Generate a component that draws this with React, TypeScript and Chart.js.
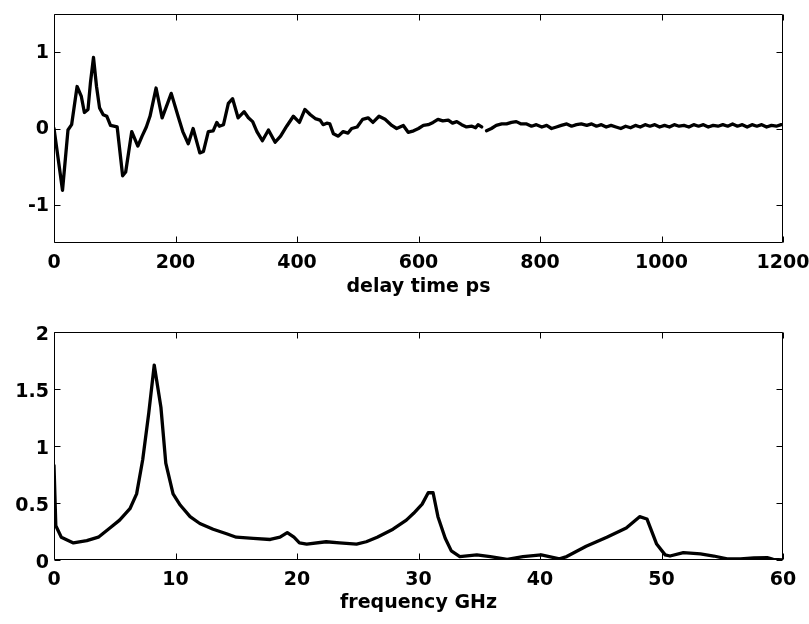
import React, { useEffect, useRef } from "react";
import { Chart, registerables } from "chart.js";

Chart.register(...registerables);

// ---- Top panel: time-domain signal ----
const delayPs: number[] = [
  0, 14, 23, 29, 38, 45, 50, 56, 60, 65, 70, 75, 81, 87, 93, 104, 113, 118, 128, 138,
  145, 152, 158, 168, 178, 186, 193, 205, 212, 221, 229, 240, 246, 254, 262, 268, 272, 279, 287, 294,
  303, 313, 320, 327, 334, 343, 353, 364, 373, 383, 394, 404, 413, 422, 430, 438, 443, 449, 454, 460,
  468, 476, 484, 490, 499, 508, 517, 525, 535, 545, 556, 564, 575, 583, 592, 600, 608, 616, 624, 632,
  640, 649, 656, 663, 671, 679, 688, 694, 698, 704, 708, 712, 720, 728, 737, 745, 753, 761, 769, 778,
  786, 794, 803, 811, 819, 827, 835, 844, 852, 860, 868, 877, 885, 893, 901, 909, 917, 925, 933, 941,
  949, 957, 965, 973, 981, 989, 997, 1005, 1013, 1021, 1029, 1037, 1045, 1053, 1061, 1069, 1077, 1085, 1093, 1101,
  1109, 1117, 1125, 1133, 1141, 1149, 1157, 1165, 1173, 1181, 1189, 1197,
];
const amplitude: (number | null)[] = [
  0, -0.81, -0.02, 0.05, 0.55, 0.42, 0.21, 0.25, 0.6, 0.93, 0.55, 0.27, 0.18, 0.16, 0.04, 0.02, -0.62, -0.57, -0.04, -0.23,
  -0.1, 0.02, 0.16, 0.53, 0.14, 0.31, 0.46, 0.14, -0.04, -0.2, 0.0, -0.32, -0.3, -0.04, -0.03, 0.08, 0.03, 0.05, 0.33, 0.39,
  0.14, 0.22, 0.14, 0.09, -0.04, -0.16, -0.02, -0.18, -0.1, 0.03, 0.16, 0.08, 0.25, 0.18, 0.13, 0.11, 0.05, 0.07, 0.06, -0.07,
  -0.1, -0.04, -0.06, 0.0, 0.02, 0.12, 0.14, 0.08, 0.16, 0.12, 0.04, 0.0, 0.04, -0.05, -0.03, 0.0, 0.04, 0.05, 0.08, 0.12,
  0.1, 0.11, 0.07, 0.09, 0.05, 0.02, 0.03, 0.01, 0.05, 0.02, null, -0.03, 0.0, 0.04, 0.06, 0.06, 0.08, 0.09, 0.06, 0.06,
  0.03, 0.05, 0.02, 0.04, 0.0, 0.02, 0.04, 0.06, 0.03, 0.05, 0.06, 0.04, 0.06, 0.03, 0.05, 0.02, 0.04, 0.02, 0.0, 0.03,
  0.01, 0.04, 0.02, 0.05, 0.03, 0.05, 0.02, 0.04, 0.02, 0.05, 0.03, 0.04, 0.02, 0.05, 0.03, 0.05, 0.02, 0.04, 0.03, 0.05,
  0.03, 0.06, 0.03, 0.05, 0.02, 0.05, 0.03, 0.05, 0.02, 0.04, 0.03, 0.05,
];
const delayTicks: number[] = [0, 200, 400, 600, 800, 1000, 1200];
const amplitudeTicks: number[] = [-1, 0, 1];

// ---- Bottom panel: spectrum ----
const freqGHz: number[] = [
  0, 0.15, 0.6, 1.6, 2.7, 3.65, 4.6, 5.4, 6.25, 6.8, 7.3, 7.8, 8.25, 8.8, 9.2, 9.8, 10.4, 11.2, 12, 13.1,
  14.2, 15, 16.4, 17.8, 18.6, 19.2, 19.75, 20.2, 20.8, 22.4, 23.5, 24.9, 25.7, 26.6, 27.9, 29, 29.6, 30.3, 30.8, 31.2,
  31.6, 32.2, 32.7, 33.4, 34.8, 35.9, 37.3, 38.6, 40.1, 41.6, 42.2, 43.8, 45.5, 47.1, 48.2, 48.8, 49.6, 50.3, 50.7, 51.8,
  53.2, 54.3, 55.4, 56.5, 57.6, 58.7, 59.2, 60,
];
const spectrum: number[] = [
  0.83, 0.3, 0.2, 0.15, 0.17, 0.2, 0.28, 0.35, 0.45, 0.58, 0.88, 1.29, 1.71, 1.34, 0.85, 0.58, 0.48, 0.38, 0.32, 0.27,
  0.23, 0.2, 0.19, 0.18, 0.2, 0.24, 0.2, 0.15, 0.14, 0.16, 0.15, 0.14, 0.16, 0.2, 0.27, 0.35, 0.41, 0.49, 0.59, 0.59,
  0.38, 0.19, 0.08, 0.03, 0.045, 0.03, 0.006, 0.03, 0.045, 0.01, 0.03, 0.12, 0.2, 0.28, 0.38, 0.36, 0.14, 0.045, 0.035, 0.065,
  0.053, 0.035, 0.01, 0.01, 0.018, 0.02, 0.006, 0,
];
const freqTicks: number[] = [0, 10, 20, 30, 40, 50, 60];
const spectrumTicks: number[] = [0, 0.5, 1, 1.5, 2];

const FONT = { family: "'DejaVu Sans', sans-serif", size: 19, weight: "bold" as const };

const framePlugin = {
  id: "frame",
  afterDraw(chart: any) {
    const { ctx, chartArea } = chart;
    const { left, right, top, bottom } = chartArea;
    const xs = chart.scales.x;
    const ys = chart.scales.y;
    const L = Math.round(left) + 0.5;
    const R = Math.round(right) - 0.5;
    const T = Math.round(top) + 0.5;
    const B = Math.round(bottom) - 0.5;
    ctx.save();
    ctx.strokeStyle = "#000";
    ctx.lineWidth = 1;
    const tl = 6;
    ctx.beginPath();
    xs.ticks.forEach((t: any) => {
      const p = Math.round(xs.getPixelForValue(t.value)) + 0.5;
      ctx.moveTo(p, B);
      ctx.lineTo(p, B - tl);
      ctx.moveTo(p, T);
      ctx.lineTo(p, T + tl);
    });
    ys.ticks.forEach((t: any) => {
      const p = Math.round(ys.getPixelForValue(t.value)) + 0.5;
      ctx.moveTo(L, p);
      ctx.lineTo(L + tl, p);
      ctx.moveTo(R, p);
      ctx.lineTo(R - tl, p);
    });
    ctx.stroke();
    ctx.beginPath();
    ctx.rect(L, T, R - L, B - T);
    ctx.stroke();
    ctx.restore();
  },
};

type PanelCfg = {
  xs: number[];
  ys: (number | null)[];
  xMin: number;
  xMax: number;
  yMin: number;
  yMax: number;
  xTicks: number[];
  yTicks: number[];
  title: string;
  padTop: number;
  padBottom: number;
  xScaleHeight: number;
  yLabelOffset: number;
};

const plain = (v: any) => String(v);

function makeConfig(c: PanelCfg): any {
  const data = c.xs.map((x, i) => ({ x, y: c.ys[i] }));
  return {
    type: "line",
    data: {
      datasets: [
        {
          data,
          borderColor: "#000",
          borderWidth: 3.3,
          pointRadius: 0,
          tension: 0,
          spanGaps: false,
          borderJoinStyle: "round",
          borderCapStyle: "round",
          fill: false,
        },
      ],
    },
    options: {
      responsive: false,
      animation: false,
      devicePixelRatio: 1,
      layout: { padding: { left: 0, right: 26, top: c.padTop, bottom: c.padBottom } },
      plugins: { legend: { display: false }, tooltip: { enabled: false } },
      scales: {
        x: {
          type: "linear",
          min: c.xMin,
          max: c.xMax,
          afterBuildTicks: (s: any) => {
            s.ticks = c.xTicks.map((v) => ({ value: v }));
          },
          afterFit: (s: any) => {
            s.height = c.xScaleHeight;
            s.paddingLeft = 0;
            s.paddingRight = 0;
          },
          grid: { display: false, drawTicks: false },
          border: { display: false },
          ticks: { color: "#000", font: FONT, padding: 9, maxRotation: 0, autoSkip: false, callback: plain },
          title: {
            display: true,
            text: c.title,
            color: "#000",
            font: FONT,
            padding: { top: 0, bottom: 0 },
          },
        },
        y: {
          type: "linear",
          min: c.yMin,
          max: c.yMax,
          afterBuildTicks: (s: any) => {
            s.ticks = c.yTicks.map((v) => ({ value: v }));
          },
          afterFit: (s: any) => {
            s.width = 54;
            s.paddingTop = 0;
            s.paddingBottom = 0;
          },
          grid: { display: false, drawTicks: false },
          border: { display: false },
          ticks: {
            color: "#000",
            font: FONT,
            padding: 5,
            labelOffset: c.yLabelOffset,
            autoSkip: false,
            callback: plain,
          },
        },
      },
    },
    plugins: [framePlugin],
  };
}

function Panel({ cfg, top }: { cfg: PanelCfg; top: number }) {
  const ref = useRef<HTMLCanvasElement | null>(null);
  useEffect(() => {
    if (!ref.current) return;
    const chart = new Chart(ref.current, makeConfig(cfg));
    return () => chart.destroy();
  }, []);
  return (
    <canvas
      ref={ref}
      width={809}
      height={312}
      style={{ position: "absolute", left: 0, top, width: 809, height: 312, display: "block" }}
    />
  );
}

const topCfg: PanelCfg = {
  xs: delayPs,
  ys: amplitude,
  xMin: 0,
  xMax: 1200,
  yMin: -1.5,
  yMax: 1.5,
  xTicks: delayTicks,
  yTicks: amplitudeTicks,
  title: "delay time ps",
  padTop: 14,
  padBottom: 14,
  xScaleHeight: 55,
  yLabelOffset: 1,
};

const bottomCfg: PanelCfg = {
  xs: freqGHz,
  ys: spectrum,
  xMin: 0,
  xMax: 60,
  yMin: 0,
  yMax: 2,
  xTicks: freqTicks,
  yTicks: spectrumTicks,
  title: "frequency GHz",
  padTop: 20,
  padBottom: 10,
  xScaleHeight: 54,
  yLabelOffset: 3,
};

export default function App() {
  return (
    <div style={{ position: "absolute", left: 0, top: 0, width: 809, height: 624, background: "#fff" }}>
      <Panel cfg={topCfg} top={0} />
      <Panel cfg={bottomCfg} top={312} />
    </div>
  );
}
